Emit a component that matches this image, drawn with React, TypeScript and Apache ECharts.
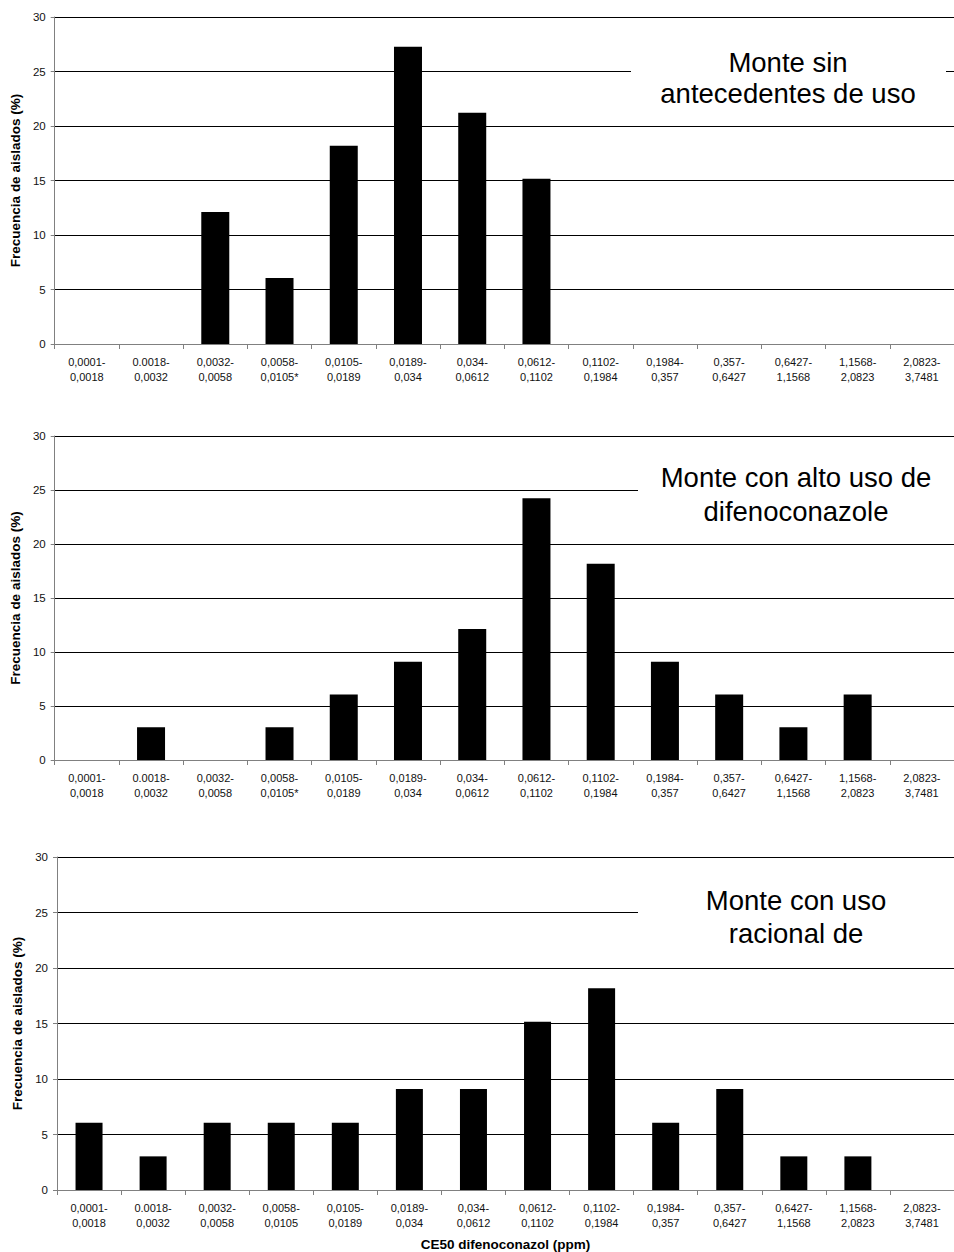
import React, { useEffect, useRef } from "react";
import * as echarts from "echarts";

const categoriesTop = [
  "0,0001-0,0018", "0.0018-0,0032", "0,0032-0,0058", "0,0058-0,0105*", "0,0105-0,0189",
  "0,0189-0,034", "0,034-0,0612", "0,0612-0,1102", "0,1102-0,1984", "0,1984-0,357",
  "0,357-0,6427", "0,6427-1,1568", "1,1568-2,0823", "2,0823-3,7481",
];
const categoriesBottom = [
  "0,0001-0,0018", "0.0018-0,0032", "0,0032-0,0058", "0,0058-0,0105", "0,0105-0,0189",
  "0,0189-0,034", "0,034-0,0612", "0,0612-0,1102", "0,1102-0,1984", "0,1984-0,357",
  "0,357-0,6427", "0,6427-1,1568", "1,1568-2,0823", "2,0823-3,7481",
];
const valuesSinUso = [0, 0, 12.12, 6.06, 18.18, 27.27, 21.21, 15.15, 0, 0, 0, 0, 0, 0];
const valuesAltoUso = [0, 3.03, 0, 3.03, 6.06, 9.09, 12.12, 24.24, 18.18, 9.09, 6.06, 3.03, 6.06, 0];
const valuesUsoRacional = [6.06, 3.03, 6.06, 6.06, 6.06, 9.09, 9.09, 15.15, 18.18, 6.06, 9.09, 3.03, 3.03, 0];
const panelLabels = ["Monte sin\nantecedentes de uso", "Monte con alto uso de\ndifenoconazole", "Monte con uso\nracional de"];
const yTitle = "Frecuencia de aislados (%)";
const xTitle = "CE50 difenoconazol (ppm)";

const FONT = "'Liberation Sans', Arial, sans-serif";

export default function App() {
  const ref = useRef<HTMLDivElement>(null);
  useEffect(() => {
    if (!ref.current) return;
    const chart = echarts.init(ref.current, null, { renderer: "svg" });
    const grids = [
      { left: 54, top: 17, width: 910, height: 327 },
      { left: 54, top: 436, width: 910, height: 324 },
      { left: 57, top: 857, width: 907, height: 334 },
    ];
    const cats = [categoriesTop, categoriesTop, categoriesBottom];
    const vals = [valuesSinUso, valuesAltoUso, valuesUsoRacional];
    const barWidths = [28, 28, 27];
    const xAxis = grids.map((g, i) => ({
      type: "category",
      gridIndex: i,
      data: cats[i],
      boundaryGap: true,
      axisLine: { lineStyle: { color: "#808080", width: 1 } },
      axisTick: { show: true, length: 5, lineStyle: { color: "#808080" } },
      axisLabel: {
        interval: 0,
        color: "#111",
        fontFamily: FONT,
        fontSize: 11,
        lineHeight: 15,
        margin: 10,
        formatter: (v: string) => v.replace("-", "-\n"),
      },
      ...(i === 2
        ? {
            name: xTitle,
            nameLocation: "middle",
            nameGap: 47,
            nameTextStyle: { fontFamily: FONT, fontSize: 13.5, fontWeight: "bold", color: "#000" },
          }
        : {}),
    }));
    const yAxis = grids.map((g, i) => ({
      type: "value",
      gridIndex: i,
      min: 0,
      max: 30,
      interval: 5,
      name: yTitle,
      nameLocation: "middle",
      nameGap: i === 2 ? 32 : 28,
      nameRotate: 90,
      nameTextStyle: { fontFamily: FONT, fontSize: 13.5, fontWeight: "bold", color: "#000" },
      axisLine: { show: true, lineStyle: { color: "#808080", width: 1 } },
      axisTick: { show: true, length: 4, lineStyle: { color: "#808080" } },
      axisLabel: { color: "#111", fontFamily: FONT, fontSize: 11.5, margin: 9 },
      splitLine: { show: true, lineStyle: { color: "#000", width: 1 } },
    }));
    const series = vals.map((v, i) => ({
      type: "bar",
      xAxisIndex: i,
      yAxisIndex: i,
      data: v,
      barWidth: barWidths[i],
      itemStyle: { color: "#000" },
    }));
    const boxes = [
      { x: 631, y: 30, w: 315, h: 85, tx: 788, ty: 78, lh: 31 },
      { x: 638, y: 448, w: 330, h: 86, tx: 796, ty: 494.5, lh: 34 },
      { x: 638, y: 868, w: 330, h: 88, tx: 796, ty: 917, lh: 32.5 },
    ];
    const graphic: any[] = [];
    boxes.forEach((b, i) => {
      graphic.push({
        type: "rect",
        z: 10,
        shape: { x: b.x, y: b.y, width: b.w, height: b.h },
        style: { fill: "#fff" },
      });
      graphic.push({
        type: "text",
        z: 11,
        x: b.tx,
        y: b.ty,
        style: {
          text: panelLabels[i],
          fill: "#000",
          fontSize: 27.5,
          fontFamily: FONT,
          lineHeight: b.lh,
          align: "center",
          verticalAlign: "middle",
        },
      });
    });
    chart.setOption({
      animation: false,
      backgroundColor: "#fff",
      grid: grids,
      xAxis,
      yAxis,
      series,
      graphic,
    });
    return () => chart.dispose();
  }, []);
  return (
    <div
      ref={ref}
      style={{ position: "absolute", left: 0, top: 0, width: 954, height: 1252 }}
    />
  );
}
